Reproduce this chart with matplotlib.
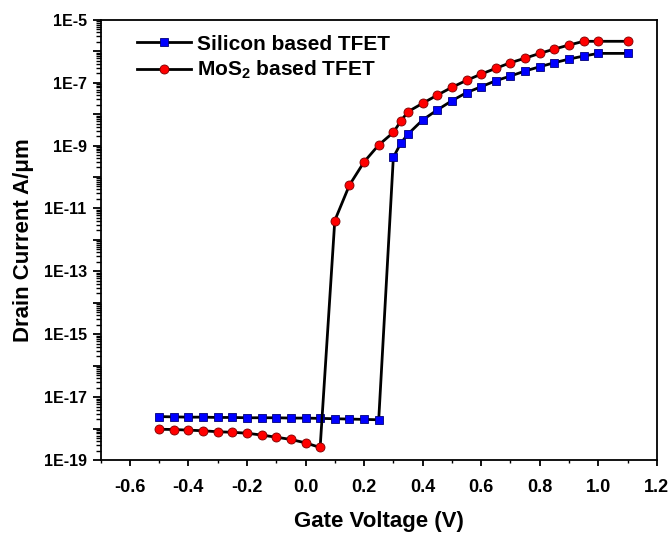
import numpy as np
import matplotlib
matplotlib.use("Agg")
import matplotlib.pyplot as plt
from matplotlib.ticker import LogLocator, FuncFormatter, MultipleLocator

plt.rcParams['font.family'] = ['Liberation Sans', 'DejaVu Sans']
plt.rcParams['font.weight'] = 'bold'
plt.rcParams['mathtext.default'] = 'regular'

# gate voltage (V)
vg_si = [-0.5, -0.45, -0.4, -0.35, -0.3, -0.25, -0.2, -0.15, -0.1, -0.05, 0.0, 0.05,
         0.1, 0.15, 0.2, 0.25, 0.3, 0.325, 0.35, 0.4, 0.45, 0.5, 0.55, 0.6, 0.65,
         0.7, 0.75, 0.8, 0.85, 0.9, 0.95, 1.0, 1.1]
id_si = [2.4e-18, 2.35e-18, 2.3e-18, 2.3e-18, 2.25e-18, 2.25e-18, 2.2e-18, 2.2e-18,
         2.2e-18, 2.15e-18, 2.15e-18, 2.1e-18, 2.05e-18, 2.0e-18, 1.95e-18, 1.9e-18,
         4.2e-10, 1.17e-9, 2.3e-9, 6.5e-9, 1.35e-8, 2.66e-8, 4.8e-8, 7.4e-8, 1.15e-7,
         1.62e-7, 2.34e-7, 3.2e-7, 4.3e-7, 5.6e-7, 7.0e-7, 8.5e-7, 8.5e-7]

vg_mos2 = [-0.5, -0.45, -0.4, -0.35, -0.3, -0.25, -0.2, -0.15, -0.1, -0.05, 0.0, 0.05,
           0.1, 0.15, 0.2, 0.25, 0.3, 0.325, 0.35, 0.4, 0.45, 0.5, 0.55, 0.6, 0.65,
           0.7, 0.75, 0.8, 0.85, 0.9, 0.95, 1.0, 1.1]
id_mos2 = [9.5e-19, 9.3e-19, 8.9e-19, 8.5e-19, 7.9e-19, 7.6e-19, 7.1e-19, 6.2e-19,
           5.3e-19, 4.5e-19, 3.5e-19, 2.5e-19, 4.1e-12, 5.5e-11, 3.0e-10, 1.04e-9,
           2.6e-9, 5.9e-9, 1.19e-8, 2.2e-8, 4.0e-8, 7.1e-8, 1.18e-7, 1.87e-7, 2.85e-7,
           4.3e-7, 6.0e-7, 8.5e-7, 1.17e-6, 1.57e-6, 2.06e-6, 2.06e-6, 2.06e-6]

fig = plt.figure(figsize=(6.71, 5.33), dpi=100)
ax = fig.add_axes([0.1498, 0.137, 0.8292, 0.826])

ax.plot(vg_si, id_si, color='black', lw=2.0, marker='s', ms=6,
        mfc='#0000ff', mec='#00007a', mew=0.6, label='Silicon based TFET')
ax.plot(vg_mos2, id_mos2, color='black', lw=2.0, marker='o', ms=6.5,
        mfc='#ff0000', mec='#7a0000', mew=0.6, label=r'MoS$_\mathregular{2}$ based TFET')

ax.set_yscale('log')
ax.set_xlim(-0.7, 1.2)
ax.set_ylim(1e-19, 1e-5)

ax.xaxis.set_major_locator(MultipleLocator(0.2))
ax.xaxis.set_minor_locator(MultipleLocator(0.1))
ax.xaxis.set_major_formatter(FuncFormatter(lambda v, p: "%.1f" % v if abs(v) > 1e-9 else "0.0"))

ax.yaxis.set_major_locator(LogLocator(base=10, numticks=30))
ax.yaxis.set_minor_locator(LogLocator(base=10, subs=np.arange(2, 10), numticks=30))

def ylab(v, p):
    e = int(round(np.log10(v)))
    if e % 2 == 0:
        return ""
    return "1E%d" % e

ax.yaxis.set_major_formatter(FuncFormatter(ylab))

ax.tick_params(axis='x', which='major', length=4.5, width=1.3, labelsize=13, pad=9)
ax.tick_params(axis='x', which='minor', length=2.5, width=1.0)
ax.tick_params(axis='y', which='major', length=6, width=1.3, labelsize=11.5, pad=4)
ax.tick_params(axis='y', which='minor', length=3.5, width=1.0)
for t in ax.get_xticklabels() + ax.get_yticklabels():
    t.set_fontweight('bold')
for s in ax.spines.values():
    s.set_linewidth(1.3)

ax.set_xlabel('Gate Voltage (V)', fontsize=16, fontweight='bold', labelpad=11)
ax.set_ylabel('Drain Current A/\u03bcm', fontsize=16, fontweight='bold', labelpad=7)

leg = ax.legend(loc='upper left', bbox_to_anchor=(0.05, 0.985), frameon=False,
                fontsize=15, handlelength=2.6, handletextpad=0.3, labelspacing=0.25,
                borderaxespad=0)
for t in leg.get_texts():
    t.set_fontweight('bold')

fig.savefig('out.png', dpi=100)
